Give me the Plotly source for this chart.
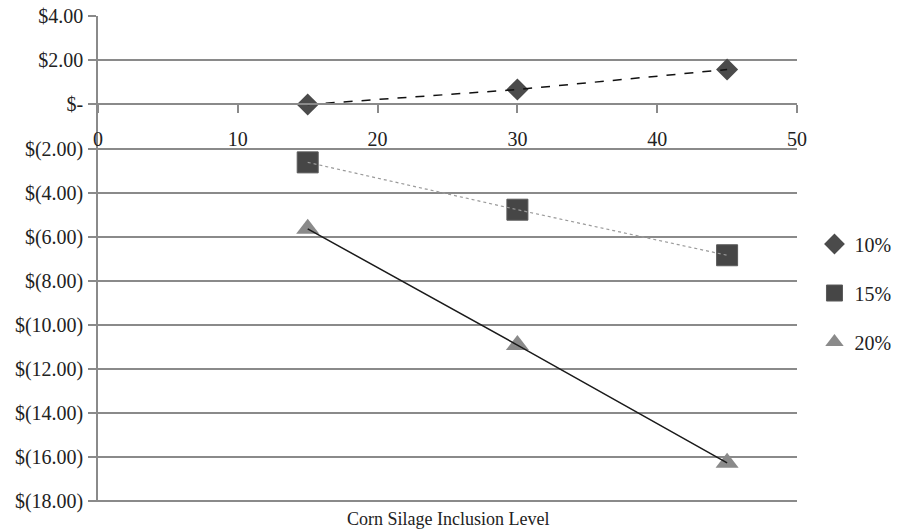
import plotly.graph_objects as go

inclusion = [15, 30, 45]
series_names = ["10%", "15%", "20%"]
values_10 = [0.0, 0.68, 1.59]
values_15 = [-2.63, -4.78, -6.85]
values_20 = [-5.65, -10.93, -16.28]

y_ticks = [4, 2, 0, -2, -4, -6, -8, -10, -12, -14, -16, -18]
y_tick_labels = ["$4.00", "$2.00", "$-", "$(2.00)", "$(4.00)", "$(6.00)", "$(8.00)",
                 "$(10.00)", "$(12.00)", "$(14.00)", "$(16.00)", "$(18.00)"]
x_ticks = [0, 10, 20, 30, 40, 50]

FONT = "Liberation Serif"
W, H = 901, 531
ml, mr, mt, mb = 98, 104, 16, 29
y_lo, y_hi = -18.06, 4.02

fig = go.Figure()

line_styles = [
    dict(color="#111111", width=1.5, dash="dash"),
    dict(color="#9a9a9a", width=1.2, dash="dot"),
    dict(color="#1a1a1a", width=1.5, dash="solid"),
]
markers = [
    dict(symbol="diamond", size=17, color="#4b4b4b"),
    dict(symbol="square", size=21, color="#464646", line=dict(color="#5a5a5a", width=1)),
    dict(symbol="triangle-up", size=20, color="#8a8a8a"),
]
all_vals = [values_10, values_15, values_20]

for name, vals, ms in zip(series_names, all_vals, markers):
    fig.add_trace(go.Scatter(x=inclusion, y=vals, mode="markers", name=name,
                             marker=ms, legendgroup=name, showlegend=True))
for name, vals, ls in zip(series_names, all_vals, line_styles):
    fig.add_trace(go.Scatter(x=inclusion, y=vals, mode="lines", line=ls,
                             showlegend=False, legendgroup=name, hoverinfo="skip"))

zero_pos = (0 - y_lo) / (y_hi - y_lo)

fig.update_layout(
    width=W, height=H,
    margin=dict(l=ml, r=mr, t=mt, b=mb, autoexpand=False),
    paper_bgcolor="white", plot_bgcolor="white",
    font=dict(family=FONT, size=20, color="#222222"),
    xaxis=dict(range=[0, 50], tickvals=x_ticks, showgrid=False, zeroline=False,
               showline=True, linecolor="#8a8a8a", linewidth=1.5,
               ticks="outside", ticklen=8, tickcolor="#8a8a8a", tickwidth=1.5,
               anchor="free", position=zero_pos, ticklabelstandoff=9,
               automargin=False,
               tickfont=dict(family=FONT, size=20, color="#222222")),
    yaxis=dict(range=[y_lo, y_hi], tickvals=y_ticks, ticktext=y_tick_labels,
               showgrid=True, gridcolor="#8a8a8a", gridwidth=1.5, zeroline=False,
               showline=True, linecolor="#8a8a8a", linewidth=1.5,
               ticks="outside", ticklen=8, tickcolor="#8a8a8a", tickwidth=1.5,
               ticklabelstandoff=1, automargin=False, ticklabeloverflow="allow",
               tickfont=dict(family=FONT, size=20, color="#222222")),
    legend=dict(x=1.025, xanchor="left", y=0.43, yanchor="middle",
                font=dict(family=FONT, size=20, color="#222222"),
                tracegroupgap=20, traceorder="grouped", bgcolor="rgba(0,0,0,0)"),
    showlegend=True,
)

fig.add_annotation(text="Corn Silage Inclusion Level", xref="paper", yref="paper",
                   x=0.5, y=0, yanchor="top", yshift=-5, showarrow=False,
                   font=dict(family=FONT, size=18, color="#222222"))

fig.write_html("out.html", config={"displayModeBar": False},
               post_script="document.body.style.margin='0';")
